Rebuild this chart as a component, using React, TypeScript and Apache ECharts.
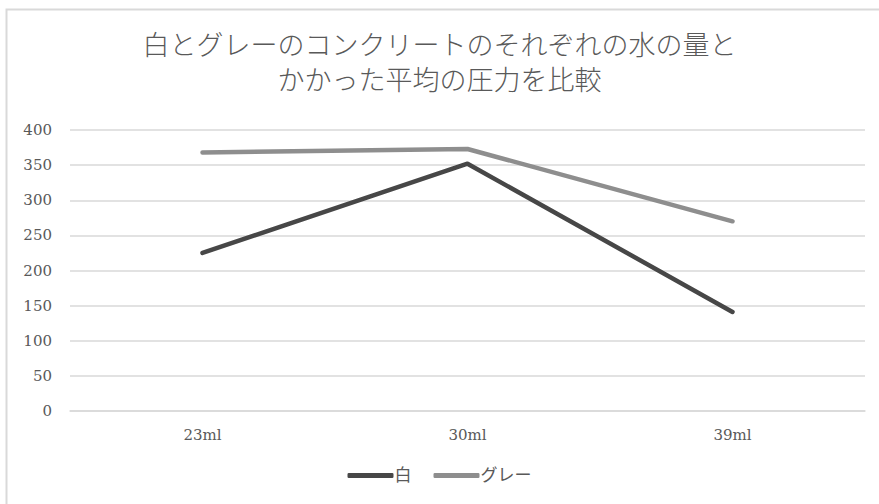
import React, { useEffect, useRef } from "react";
import * as echarts from "echarts";

const titleLines = ["白とグレーのコンクリートのそれぞれの水の量と", "かかった平均の圧力を比較"];
const categories = ["23ml", "30ml", "39ml"];
const whiteValues = [225, 352, 141];
const grayValues = [368, 373, 270];
const seriesNames = ["白", "グレー"];

export default function App() {
  const ref = useRef<HTMLDivElement>(null);
  useEffect(() => {
    if (!ref.current) return;
    const chart = echarts.init(ref.current, undefined, { renderer: "svg" });
    const serif = "'DejaVu Serif', 'Liberation Serif', serif";
    const titleStyle = {
      fontFamily: "'Liberation Serif', 'Noto Sans CJK JP', sans-serif",
      fontWeight: 300,
      fontSize: 27,
      lineHeight: 30,
      color: "#595959",
    };
    chart.setOption({
      animation: false,
      backgroundColor: "#ffffff",
      title: titleLines.map((t, i) => ({
        text: t,
        left: "center",
        top: 31 + i * 35,
        padding: 0,
        textStyle: titleStyle,
      })),
      graphic: [
        {
          type: "rect",
          shape: { x: 6.5, y: 9.5, width: 900, height: 520 },
          style: { fill: "none", stroke: "#d9d9d9", lineWidth: 2 },
          silent: true,
        },
      ],
      legend: {
        bottom: 15,
        left: "center",
        itemWidth: 46,
        itemHeight: 5,
        itemGap: 22,
        icon: "roundRect",
        data: seriesNames,
        textStyle: {
          fontFamily: "'Liberation Serif', 'Noto Sans CJK JP', sans-serif",
          fontSize: 17,
          color: "#595959",
          padding: [0, 0, 0, -4],
        },
      },
      grid: { left: 70, right: 14, top: 130, bottom: 93 },
      xAxis: {
        type: "category",
        data: categories,
        boundaryGap: true,
        axisLine: { lineStyle: { color: "#d9d9d9", width: 1.5 } },
        axisTick: { show: false },
        axisLabel: { fontFamily: serif, fontSize: 15, color: "#595959", margin: 16 },
      },
      yAxis: {
        type: "value",
        min: 0,
        max: 400,
        interval: 50,
        axisLine: { show: false },
        axisTick: { show: false },
        splitLine: { lineStyle: { color: "#d9d9d9", width: 1.5 } },
        axisLabel: { fontFamily: serif, fontSize: 15, color: "#595959", margin: 18 },
      },
      series: [
        {
          name: seriesNames[0],
          type: "line",
          data: whiteValues,
          symbol: "none",
          lineStyle: { color: "#474747", width: 4.5, cap: "round", join: "round" },
          itemStyle: { color: "#474747" },
        },
        {
          name: seriesNames[1],
          type: "line",
          data: grayValues,
          symbol: "none",
          lineStyle: { color: "#8e8e8e", width: 4.5, cap: "round", join: "round" },
          itemStyle: { color: "#8e8e8e" },
        },
      ],
    });
    return () => chart.dispose();
  }, []);
  return (
    <div
      ref={ref}
      style={{ position: "absolute", left: 0, top: 0, width: 879, height: 504 }}
    />
  );
}
